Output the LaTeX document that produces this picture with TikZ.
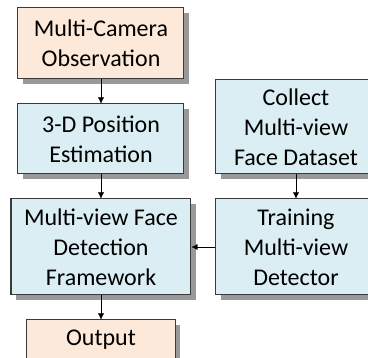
\documentclass[tikz,border=0pt]{standalone}
\usepackage{fontspec}
\setmainfont{Carlito}
\usetikzlibrary{arrows.meta,positioning,shadows}

\definecolor{peach}{HTML}{FDE9D9}
\definecolor{paleblue}{HTML}{DAEEF3}
\definecolor{edgegray}{HTML}{3A3A3A}

\begin{document}
\begin{tikzpicture}[>={Latex[length=6pt,width=6pt]}, x=1pt, y=1pt]
  \tikzset{block/.style= {draw=edgegray, line width=1pt, rectangle, align=center,
      font=\fontsize{24}{30}\selectfont, inner sep=0pt,
      drop shadow={shadow xshift=5pt, shadow yshift=-5pt, fill=black, opacity=0.4}},
    ioblock/.style={block, fill=peach},
    stepblock/.style={block, fill=paleblue}}
  \useasboundingbox (0,0) rectangle (368,-358);
  \node[ioblock, minimum width=166pt, minimum height=71pt] at (101,-43.5) (camera) {Multi-Camera\\Observation};
  \node[stepblock, minimum width=166pt, minimum height=70pt, below =24pt of camera] (position) {3-D Position\\Estimation};
  \node[stepblock, minimum width=180pt, minimum height=96pt, below =24pt of position] (detect) {Multi-view Face\\Detection\\Framework};
  \node[ioblock, minimum width=149pt, minimum height=39pt, below =24pt of detect] (output) {Output};
  \node[stepblock, minimum width=160pt, minimum height=94pt, anchor=south west] at ([xshift=31pt]position.south east) (dataset) {Collect\\Multi-view\\Face Dataset};
  \node[stepblock, minimum width=160pt, minimum height=96pt, below =24pt of dataset] (training) {Training\\Multi-view\\Detector};

  \path[draw, ->] (camera) edge (position);
  \path[draw, ->] (position) edge (detect);
  \path[draw, ->] (detect) edge (output);
  \path[draw, ->] (dataset) edge (training);
  \path[draw, ->] (training) edge (detect);
\end{tikzpicture}
\end{document}
